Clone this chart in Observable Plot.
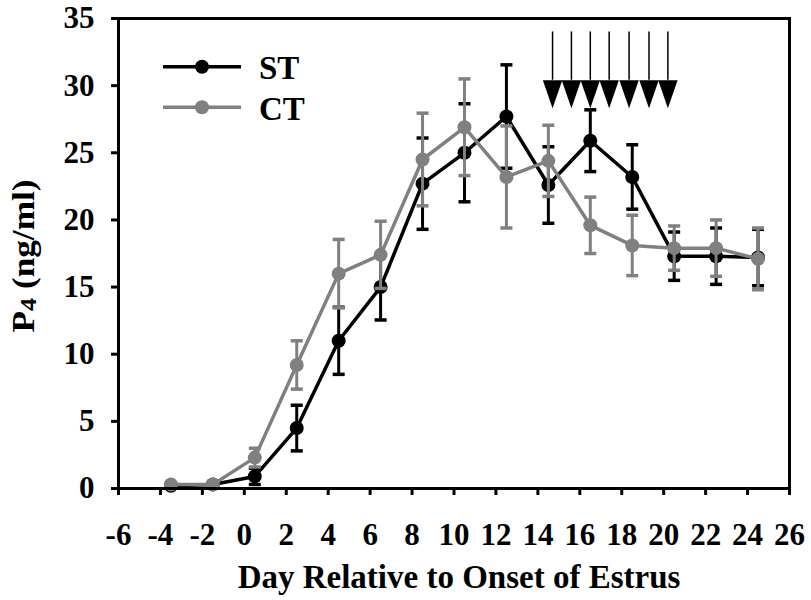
<!DOCTYPE html>
<html>
<head>
<meta charset="utf-8">
<script src="https://cdn.jsdelivr.net/npm/d3@7"></script>
<script src="https://cdn.jsdelivr.net/npm/@observablehq/plot@0.6"></script>
<style>
  html, body { margin: 0; padding: 0; background: #fff; }
  #chart { position: relative; width: 811px; height: 600px; }
  #legend { position: absolute; left: 0; top: 0; pointer-events: none; }
</style>
</head>
<body>
<div id="chart"></div>
<script>
// ---- data ----
const days = [-3.5, -1.5, 0.5, 2.5, 4.5, 6.5, 8.5, 10.5, 12.5, 14.5, 16.5, 18.5, 20.5, 22.5, 24.5];
const stMean = [0.2, 0.3, 0.9, 4.5, 11.0, 15.0, 22.7, 25.0, 27.7, 22.6, 25.9, 23.2, 17.3, 17.3, 17.2];
const stSE   = [0.1, 0.1, 0.6, 1.7, 2.5, 2.45, 3.4, 3.65, 3.85, 2.85, 2.3, 2.4, 1.8, 2.1, 2.1];
const ctMean = [0.3, 0.3, 2.3, 9.2, 16.0, 17.4, 24.5, 26.9, 23.2, 24.4, 19.6, 18.1, 17.9, 17.9, 17.1];
const ctSE   = [0.1, 0.1, 0.7, 1.8, 2.55, 2.5, 3.45, 3.6, 3.8, 2.65, 2.1, 2.25, 1.65, 2.1, 2.3];
const seriesNames = ["ST", "CT"];
const seriesColors = ["#000000", "#808080"];
const arrowDays = [14.7, 15.6, 16.5, 17.4, 18.35, 19.3, 20.2];
const arrowTop = [34.0];
const arrowBase = [30.4];
const xTicks = d3.range(-6, 27, 2);
const yTicks = d3.range(0, 36, 5);

// ---- build table ----
const rows = [];
[[stMean, stSE], [ctMean, ctSE]].forEach(([m, se], si) => {
  days.forEach((d, i) => rows.push({series: seriesNames[si], day: d, mean: m[i], lo: m[i] - se[i], hi: m[i] + se[i]}));
});
const caps = rows.flatMap(r => [{series: r.series, day: r.day, v: r.lo}, {series: r.series, day: r.day, v: r.hi}]);
const arrows = arrowDays.map(d => ({day: d, top: arrowTop[0], base: arrowBase[0]}));

const capSymbol = { draw(ctx) { ctx.moveTo(-6, 0); ctx.lineTo(6, 0); } };
const triSymbol = { draw(ctx) { ctx.moveTo(-9.7, 0); ctx.lineTo(9.7, 0); ctx.lineTo(0, 28); ctx.closePath(); } };

const FONT = "'Liberation Serif', 'Times New Roman', serif";
const colorOf = s => seriesColors[seriesNames.indexOf(s)];

function layer(name) {
  const rs = rows.filter(r => r.series === name);
  const cs = caps.filter(r => r.series === name);
  const c = colorOf(name);
  return [
    Plot.ruleX(rs, {x: "day", y1: "lo", y2: "hi", stroke: c, strokeWidth: 3}),
    Plot.dot(cs, {x: "day", y: "v", symbol: capSymbol, stroke: c, strokeWidth: 3.5, fill: "none", r: 6}),
    Plot.line(rs, {x: "day", y: "mean", stroke: c, strokeWidth: 3.5}),
    Plot.dot(rs, {x: "day", y: "mean", r: 7, fill: c, stroke: "none"})
  ];
}

const plot = Plot.plot({
  width: 811,
  height: 600,
  marginLeft: 118,
  marginRight: 22,
  marginTop: 18,
  marginBottom: 112,
  style: {fontFamily: FONT, fontWeight: "bold", background: "#fff", color: "#000"},
  x: {domain: [-6, 26]},
  y: {domain: [0, 35]},
  marks: [
    Plot.axisX({ticks: xTicks, tickFormat: d => String(d), tickSize: 7, tickPadding: 27, strokeWidth: 3, fontSize: 31, fontWeight: "bold", fontFamily: FONT, label: null}),
    Plot.axisY({ticks: yTicks, tickFormat: d => String(d), tickSize: 7, tickPadding: 17, strokeWidth: 3, fontSize: 31, fontWeight: "bold", fontFamily: FONT, label: null}),
    ...layer("ST"),
    ...layer("CT"),
    Plot.ruleX(arrows, {x: "day", y1: "base", y2: "top", stroke: "#000", strokeWidth: 1.5}),
    Plot.dot(arrows, {x: "day", y: "base", symbol: triSymbol, fill: "#000", stroke: "none", r: 10}),
    Plot.frame({stroke: "#000", strokeWidth: 3})
  ]
});

const chart = document.getElementById("chart");
chart.appendChild(plot);

// axis titles
const svg = d3.select(plot);
svg.append("text")
  .attr("x", 459).attr("y", 588)
  .attr("text-anchor", "middle")
  .style("font-family", FONT).style("font-weight", "bold").style("font-size", "33px")
  .attr("fill", "#000")
  .text("Day Relative to Onset of Estrus");
const yl = svg.append("text")
  .attr("transform", "translate(33.5,256) rotate(-90)")
  .attr("text-anchor", "middle")
  .attr("textLength", 153).attr("lengthAdjust", "spacingAndGlyphs")
  .style("font-family", FONT).style("font-weight", "bold").style("font-size", "31px")
  .attr("fill", "#000");
yl.append("tspan").text("P");
yl.append("tspan").attr("dy", 2).style("font-size", "23px").text("4");
yl.append("tspan").attr("dy", -2).text(" (ng/ml)");

// legend (inside the plot area)
const leg = d3.select(chart).append("svg").attr("id", "legend").attr("width", 811).attr("height", 600);
seriesNames.forEach((s, i) => {
  const y = 66.7 + i * 40.6;
  const c = seriesColors[i];
  leg.append("line").attr("x1", 163).attr("x2", 241).attr("y1", y).attr("y2", y).attr("stroke", c).attr("stroke-width", 3.5);
  leg.append("circle").attr("cx", 202).attr("cy", y).attr("r", 7).attr("fill", c);
  leg.append("text").attr("x", 259).attr("y", y + 12.5)
    .style("font-family", FONT).style("font-weight", "bold").style("font-size", "33px")
    .attr("fill", "#000").text(s);
});
</script>
</body>
</html>
